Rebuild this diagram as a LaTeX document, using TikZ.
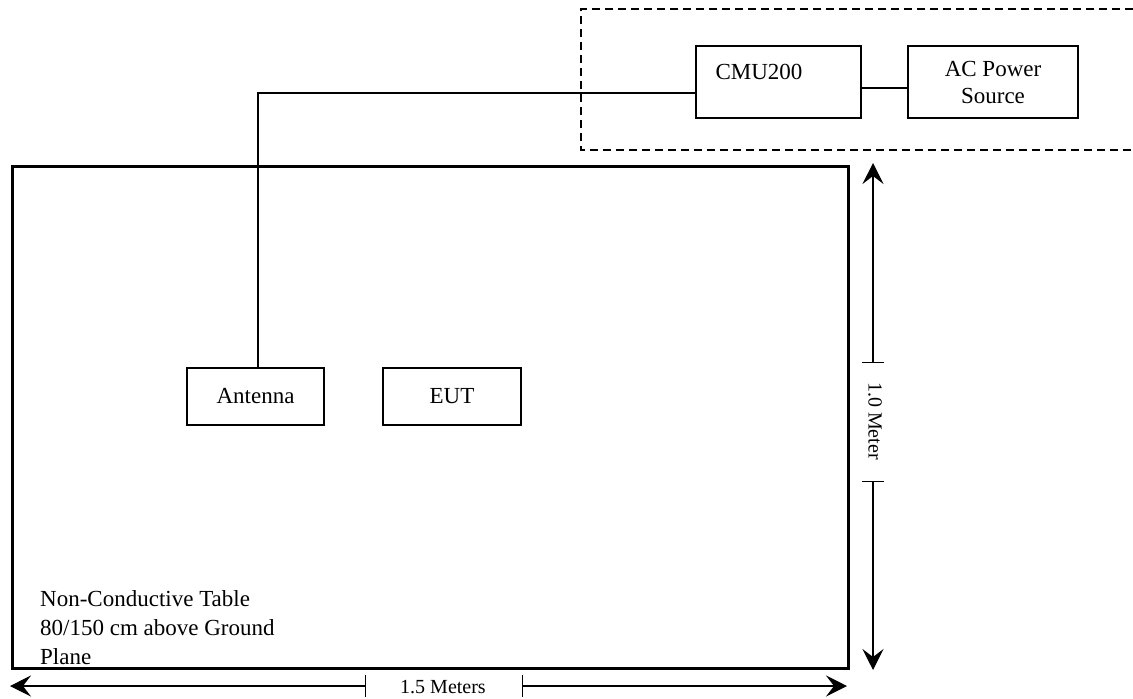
\documentclass[tikz,border=0pt]{standalone}
\usepackage{fontspec}
\setmainfont{Liberation Serif}
\usetikzlibrary{arrows.meta}

\begin{document}
\begin{tikzpicture}[x=1pt, y=-1pt,
  font=\fontsize{23}{31}\selectfont,
  unit/.style={draw, line width=1.5pt, inner sep=0pt},
  wire/.style={line width=1.2pt},
  dim/.style={line width=1.3pt, {Bar[width=22pt,line width=1.3pt]}-{Stealth[length=21pt,width=21pt,inset=8pt]}},
  dimlabel/.style={font=\fontsize{20}{22}\selectfont, inner sep=1pt}]

\useasboundingbox (0,0) rectangle (1133,699);

% rack at the top
\draw [dashed, line width=1.3pt, dash pattern=on 8pt off 5pt] (1133,9) -- (581,9) -- (581,150) -- (1133,150);

\node [unit, minimum width=165, minimum height=72] (cmu) at (778.5,82) {};
\node (cmulabel) at (759,72) {CMU200};
\node [unit, minimum width=170, minimum height=72, align=center] (ac) at (993,82) {AC Power\\[-4pt]Source};

% table
\node [draw, line width=3pt, minimum width=836, minimum height=502] (table) at (430.5,417.5) {};
\node [anchor=north west, align=left, inner sep=0pt, font=\fontsize{23}{29}\selectfont] (tablelabel) at (40,590) {Non-Conductive Table\\80/150 cm above Ground\\Plane};

\node [unit, minimum width=137, minimum height=57] (ant) at (255.5,396.5) {Antenna};
\node [unit, minimum width=138, minimum height=57] (eut) at (452,396.5) {EUT};

\draw [wire] ([xshift=2.5pt]ant.north) |- ([yshift=-11pt]cmu.west);
\draw [wire] ([yshift=-6pt]cmu.east) -- ([yshift=-6pt]ac.west);

% dimensions
\coordinate (vtop) at (873,163);
\coordinate (vbot) at (873,670);
\coordinate (vhi) at (873,363);
\coordinate (vlo) at (873,481);
\node [dimlabel, rotate=-90] (vlabel) at (875,421) {1.0 Meter};
\draw [dim] (vhi) -- (vtop);
\draw [dim] (vlo) -- (vbot);

\coordinate (hleft) at (10,686);
\coordinate (hright) at (847,686);
\coordinate (hl) at (366,686);
\coordinate (hr) at (522,686);
\node [dimlabel] (hlabel) at (443,687) {1.5 Meters};
\draw [dim] (hl) -- (hleft);
\draw [dim] (hr) -- (hright);

\end{tikzpicture}
\end{document}
